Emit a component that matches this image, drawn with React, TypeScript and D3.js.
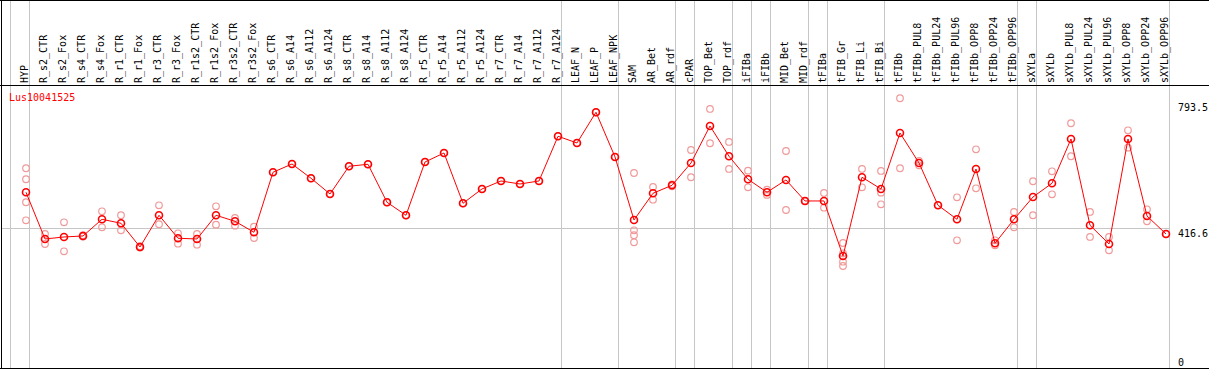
import React from "react";
import { useRef, useEffect } from "react";
import * as d3 from "d3";

const geneName = "Lus10041525";

const categories = [
  "HYP", "R_s2_CTR", "R_s2_Fox", "R_s4_CTR", "R_s4_Fox", "R_r1_CTR", "R_r1_Fox",
  "R_r3_CTR", "R_r3_Fox", "R_r1s2_CTR", "R_r1s2_Fox", "R_r3s2_CTR", "R_r3s2_Fox",
  "R_s6_CTR", "R_s6_A14", "R_s6_A112", "R_s6_A124", "R_s8_CTR", "R_s8_A14",
  "R_s8_A112", "R_s8_A124", "R_r5_CTR", "R_r5_A14", "R_r5_A112", "R_r5_A124",
  "R_r7_CTR", "R_r7_A14", "R_r7_A112", "R_r7_A124", "LEAF_N", "LEAF_P", "LEAF_NPK",
  "SAM", "AR_Bet", "AR_rdf", "cPAR", "TOP_Bet", "TOP_rdf", "iFIBa", "iFIBb",
  "MID_Bet", "MID_rdf", "tFIBa", "tFIB_Gr", "tFIB_Li", "tFIB_Bi", "tFIBb",
  "tFIBb_PUL8", "tFIBb_PUL24", "tFIBb_PUL96", "tFIBb_OPP8", "tFIBb_OPP24",
  "tFIBb_OPP96", "sXYLa", "sXYLb", "sXYLb_PUL8", "sXYLb_PUL24", "sXYLb_PUL96",
  "sXYLb_OPP8", "sXYLb_OPP24", "sXYLb_OPP96",
];

// mean expression per sample
const means = [
  523.5, 383.8, 389.8, 392.8, 442.7, 430.8, 359.9, 454.7, 385.9, 383.8, 454.7,
  436.7, 403.8, 583.3, 608.1, 565.4, 518.4, 601.3, 607.2, 493.6, 454.7, 614.1,
  641.0, 490.6, 533.4, 557.3, 548.3, 557.3, 691.0, 671.0, 762.8, 629.1, 440.6,
  520.5, 544.4, 611.1, 721.8, 631.2, 562.4, 523.5, 560.3, 497.5, 497.5, 332.9,
  568.4, 533.4, 700.9, 611.1, 484.6, 442.7, 593.2, 370.9, 442.7, 509.4, 550.4,
  682.9, 424.8, 368.8, 682.9, 452.6, 398.7,
];

// individual replicates
const replicates = [
  [595.3, 562.4, 493.6, 439.7], [398.7, 368.8], [433.7, 347.0], [391, 395],
  [466.6, 418.8], [454.7, 409.8], [358, 362], [484.6, 427.8], [400.8, 369.7],
  [398.7, 366.7], [481.6, 426.6], [446.6, 423.6], [420.6, 386.8],
  [583.3], [608.1], [565.4], [518.4], [601.3], [607.2], [493.6], [454.7],
  [614.1], [641.0], [490.6], [533.4], [557.3], [548.3], [557.3], [691.0],
  [671.0], [762.8], [629.1],
  [581.2, 409.8, 394.9, 373.9], [539.3, 501.3], [547.4, 541.5], [650.0, 568.4],
  [772.7, 670.1], [674.0, 593.2], [588.1, 538.4], [531.3, 515.7], [647.0, 470.5],
  [497.5, 497.5], [521.4, 477.4], [371.8, 315.9, 303.0, 341], [593.2, 538.4],
  [587.2, 522.3, 487.6], [804.7, 595.3], [617.1, 604.2], [484.6], [508.5, 379.9],
  [652.1, 535.4], [379.9, 364.9], [464.6, 418.8], [556.4, 454.7], [586.3, 517.5],
  [729.9, 631.2], [464.6, 389.8], [389.8, 350.0], [708.9, 656.9], [472.6, 436.7],
  [398.7],
];

// group separators drawn after these sample indices (-1 = before first)
const separatorsAfter = [-1, 0, 28, 31, 34, 35, 37, 38, 39, 41, 42, 45, 52, 53, 60];

const axisTicks = [793.5, 416.6, 0];
const gridValues = [416.6];

const WIDTH = 1209;
const HEIGHT = 370;

const ExpressionChart = () => {
  const svgRef = useRef<SVGSVGElement>(null);

  useEffect(() => {
    document.body.style.margin = "0";
    const svg = d3.select(svgRef.current);
    svg.selectAll("*").remove();

    const xScale = d3
      .scaleBand()
      .domain(categories)
      .range([11, 1170])
      .padding(0);
    const bw = xScale.bandwidth();
    const cx = (i: number) => (xScale(categories[i]) as number) + 15;

    const yScale = d3.scaleLinear().domain([0, 793.5]).range([367.3, 102]);

    const grey = "#c6c6c6";
    const font = "'DejaVu Sans Mono', monospace";

    const sepX = (i: number) =>
      i < 0
        ? Math.round(xScale(categories[0]) as number) - 0.5
        : Math.round((xScale(categories[i]) as number) + bw) - 0.5;

    // separators
    svg
      .selectAll(".sep")
      .data(separatorsAfter)
      .join("line")
      .attr("class", "sep")
      .attr("x1", sepX)
      .attr("x2", sepX)
      .attr("y1", 0)
      .attr("y2", 368)
      .attr("stroke", grey);

    // horizontal grid
    svg
      .selectAll(".grid")
      .data(gridValues)
      .join("line")
      .attr("class", "grid")
      .attr("x1", 1)
      .attr("x2", 1170)
      .attr("y1", (v) => Math.round(yScale(v)) + 0.5)
      .attr("y2", (v) => Math.round(yScale(v)) + 0.5)
      .attr("stroke", grey);

    // frame
    const frame = [
      [0, 0.5, WIDTH, 0.5],
      [0, 85.5, WIDTH, 85.5],
      [0, 368.5, WIDTH, 368.5],
      [1.5, 0, 1.5, 369],
    ];
    svg
      .selectAll(".frame")
      .data(frame)
      .join("line")
      .attr("class", "frame")
      .attr("x1", (d) => d[0])
      .attr("y1", (d) => d[1])
      .attr("x2", (d) => d[2])
      .attr("y2", (d) => d[3])
      .attr("stroke", "black");

    // column labels
    svg
      .selectAll(".lbl")
      .data(categories)
      .join("text")
      .attr("class", "lbl")
      .attr("transform", (d, i) => `translate(${cx(i) + 2},83) rotate(-90)`)
      .attr("font-family", font)
      .attr("font-size", 10)
      .attr("fill", "black")
      .text((d) => d);

    // right axis labels
    svg
      .selectAll(".tick")
      .data(axisTicks)
      .join("text")
      .attr("class", "tick")
      .attr("x", 1178)
      .attr("y", (v) => Math.min(yScale(v) + 9, 366))
      .attr("font-family", font)
      .attr("font-size", 10)
      .attr("fill", "black")
      .text((v) => String(v));

    svg
      .append("text")
      .attr("x", 9)
      .attr("y", 101)
      .attr("font-family", font)
      .attr("font-size", 10)
      .attr("fill", "red")
      .text(geneName);

    // replicates
    const reps = replicates.flatMap((vals, i) => vals.map((v) => ({ i, v })));
    svg
      .selectAll(".rep")
      .data(reps)
      .join("circle")
      .attr("class", "rep")
      .attr("cx", (d) => cx(d.i))
      .attr("cy", (d) => yScale(d.v))
      .attr("r", 3.3)
      .attr("fill", "none")
      .attr("stroke", "#f09a9a")
      .attr("stroke-width", 1.2);

    const line = d3
      .line<number>()
      .x((d, i) => cx(i))
      .y((d) => yScale(d));
    svg
      .append("path")
      .attr("d", line(means))
      .attr("fill", "none")
      .attr("stroke", "red")
      .attr("stroke-width", 1);

    svg
      .selectAll(".mean")
      .data(means)
      .join("circle")
      .attr("class", "mean")
      .attr("cx", (d, i) => cx(i))
      .attr("cy", (d) => yScale(d))
      .attr("r", 3.5)
      .attr("fill", "none")
      .attr("stroke", "red")
      .attr("stroke-width", 1.6);
  }, []);

  return (
    <svg
      ref={svgRef}
      width={WIDTH}
      height={HEIGHT}
      style={{ position: "absolute", left: 0, top: 0, display: "block", background: "white" }}
    />
  );
};

export default function App() {
  return <ExpressionChart />;
}
